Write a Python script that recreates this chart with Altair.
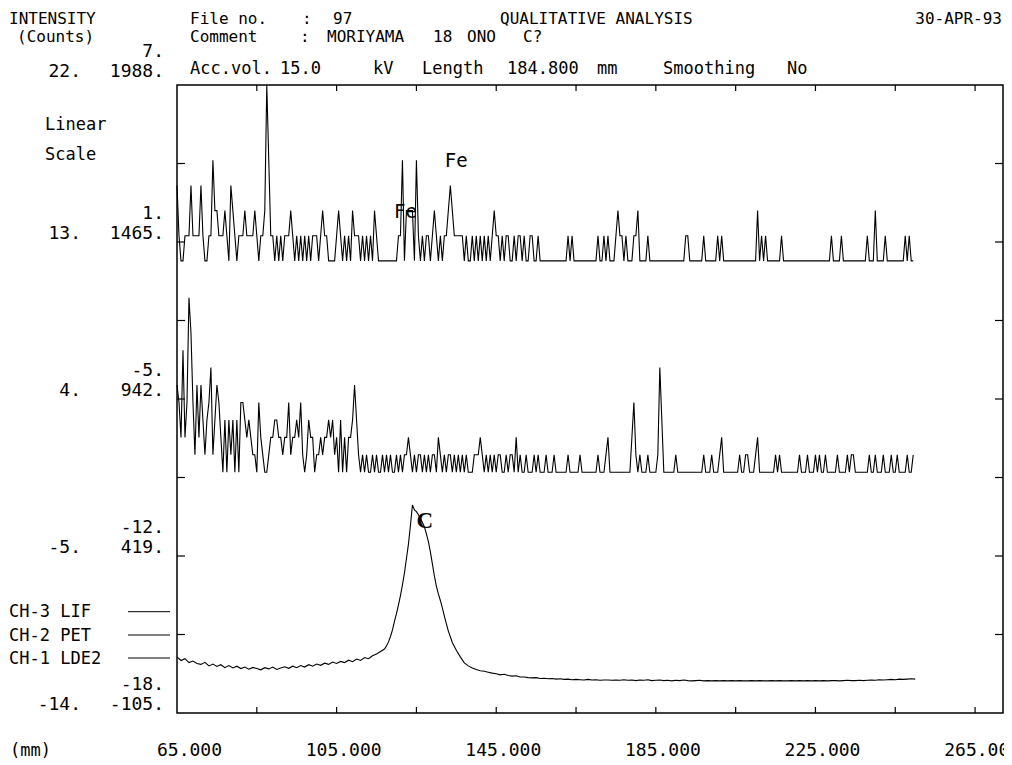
import altair as alt
import pandas as pd

# ---------------- data ----------------
X_START_MM = 65.0
STEP_MM = 0.5  # sampling step of CH-3 / CH-2 traces

# CH-3 LIF counts (top trace), 0.5 mm step from 65.0 mm
TOP_LIF = [
    3,1,0,0,1,1,1,3,1,1, 1,1,3,1,0,0,1,1,4,2, 2,1,1,1,2,1,0,3,2,1, 0,1,1,1,2,1,1,1,1,2,
    1,0,1,1,2,7,4,1,1,0, 1,0,1,0,1,1,1,2,1,0, 1,0,1,0,1,0,1,0,1,1, 1,0,1,2,1,1,0,0,0,0,
    1,2,1,0,1,0,1,0,2,1, 1,1,0,1,0,1,0,1,0,2, 1,0,0,0,0,0,0,0,0,0, 0,1,1,4,0,2,2,2,2,0,
    4,1,0,1,0,1,1,0,1,2, 1,0,1,0,1,1,2,3,2,1, 1,1,1,1,0,1,0,0,1,0, 1,0,1,0,1,0,1,0,1,2,
    1,1,0,1,0,1,1,0,0,1, 0,1,1,0,1,0,0,1,1,0, 0,1,0,0,0,0,0,0,0,0, 0,0,0,0,0,0,1,0,1,0,
    0,0,0,0,0,0,0,0,0,0, 0,1,0,0,1,0,1,0,0,0, 1,2,1,1,0,1,0,0,0,1, 1,2,0,0,0,0,1,0,0,0,
    0,0,0,0,0,0,0,0,0,0, 0,0,0,0,0,1,1,0,0,0, 0,0,0,0,1,0,0,0,0,0, 0,1,0,1,0,0,0,0,0,0,
    0,0,0,0,0,0,0,0,0,0, 0,2,0,1,0,1,0,0,0,0, 0,0,0,1,0,0,0,0,0,0, 0,0,0,0,0,0,0,0,0,0,
    0,0,0,0,0,0,0,0,1,0, 0,0,0,1,0,0,0,0,0,0, 0,0,0,0,0,0,1,0,0,0, 2,0,0,0,0,1,0,0,0,0,
    0,0,0,0,0,1,0,1,0,0,
]

# CH-2 PET counts (middle trace), 0.5 mm step from 65.0 mm
MID_PET = [
    5,4,2,7,2,4,10,8,4,1, 5,2,5,3,1,3,4,6,1,3, 5,4,2,0,3,0,3,1,3,0, 3,0,4,4,3,2,3,2,1,1,
    0,4,2,1,0,0,1,2,2,3, 3,2,2,1,2,2,4,1,2,2, 3,2,4,1,0,1,3,2,2,0, 1,1,2,1,2,2,3,2,3,1,
    2,0,3,0,2,0,2,2,3,5, 3,1,0,1,0,1,0,0,1,0, 1,0,0,1,0,1,0,1,0,0, 1,0,1,0,1,1,2,1,0,1,
    0,1,1,0,1,0,1,0,1,1, 0,2,1,0,1,0,1,1,0,1, 0,1,0,1,0,1,0,0,0,1, 1,1,2,1,0,1,0,1,0,1,
    0,1,1,0,0,1,0,1,1,0, 2,0,1,0,0,1,0,0,0,1, 0,1,0,0,0,1,0,0,0,1, 0,0,0,0,0,0,1,0,0,0,
    0,0,1,0,0,0,0,0,0,0, 0,1,0,0,0,1,2,0,0,0, 0,0,0,0,0,0,0,0,2,4, 1,0,1,0,0,0,1,0,0,0,
    0,1,6,3,0,0,0,0,0,0, 1,0,0,0,0,0,0,0,0,0, 0,0,0,0,1,0,0,0,1,0, 0,0,1,2,0,0,0,0,0,0,
    0,0,1,0,0,1,1,0,0,0, 1,2,0,0,0,0,0,0,0,0, 1,0,1,0,0,0,0,0,0,0, 0,0,1,0,0,0,1,0,0,0,
    1,0,1,0,0,1,0,0,0,0, 0,1,0,0,0,0,1,0,1,1, 0,0,0,0,0,0,0,1,0,0, 1,0,0,0,1,0,0,0,1,0,
    0,1,0,0,0,0,1,0,0,1,
]

# CH-1 LDE2 counts (bottom trace)
BOT_MM = (list(range(65, 118))
          + [117.5 + 0.5 * k for k in range(30)]
          + list(range(133, 251)))
BOT_LDE2 = [
    82,70,76,63,68,60,57,64,52,58, 50,56,46,53,45,51,43,48,41,47,
    43,39,46,42,48,40,45,49,44,51, 46,53,48,56,51,58,54,61,57,65,
    60,67,63,71,66,75,70,80,76,86, 92,100,108,
    118,132,150,172,200,226,255,286,322,362, 410,458,520,588,572,566,556,543,530,515,
    492,466,432,392,352,318,292,270,245,218,
    168,130,104,82,62,52,45,40,36,34, 31,28,26,22,24,20,18,19,15,15,
    13,12,13,10,11,9,10,8,9,7, 8,6,7,6,5,7,5,6,4,5, 5,4,
    5,4,6,4,5,3,5,4,6,3, 4,5,3,4,2,4,3,5,3,2, 3,4,2,3,2,3,2,3,2,3,
    2,3,2,2,3,2,3,2,2,3, 2,3,2,2,3,2,3,2,3,2, 3,2,3,2,3,3,2,3,4,3,
    3,4,3,4,5,4,6,5,6,7, 6,8,7,8,9,8,
]

# frame ticks and labels
X_TICKS_MM = [85, 105, 125, 145, 165, 185, 205, 225, 245, 265]
X_LABELS_MM = [65, 105, 145, 185, 225, 265]
Y_TICKS_CH1 = [156.625, 418.25, 679.875, 941.5, 1203.125, 1464.75, 1726.375]
Y_LABEL_VALUES = [1988, 1464.75, 941.5, 418.25, -105]
COL_CH2 = ["22.", "13.", "4.", "-5.", "-14."]
COL_CH1 = ["1988.", "1465.", "942.", "419.", "-105."]
COL_CH3 = ["7.", "1.", "-5.", "-12.", "-18."]

# ---------------- tables ----------------
grid = [X_START_MM + STEP_MM * i for i in range(len(TOP_LIF))]
df_top = pd.DataFrame({"mm": grid, "v": TOP_LIF})
df_mid = pd.DataFrame({"mm": grid[:len(MID_PET)], "v": MID_PET})
df_bot = pd.DataFrame({"mm": BOT_MM, "v": BOT_LDE2})
df_xt = pd.DataFrame({"mm": X_TICKS_MM})
df_xl = pd.DataFrame({"mm": X_LABELS_MM, "t": [f"{v:.3f}" for v in X_LABELS_MM]})
df_yt = pd.DataFrame({"v": Y_TICKS_CH1})
df_yl = pd.DataFrame({"v": Y_LABEL_VALUES, "a": COL_CH2, "b": COL_CH1, "s": COL_CH3})

# ---------------- scales / style ----------------
W, H = 826, 628
MONO = "DejaVu Sans Mono"
FS = 18      # axis numbers
FH = 16      # header texts
xs = alt.Scale(domain=[65, 272.0], nice=False, zero=False)
s_top = alt.Scale(domain=[-18, 7], nice=False, zero=False)
s_mid = alt.Scale(domain=[-13.8, 22.2], nice=False, zero=False)
s_bot = alt.Scale(domain=[-105, 1988], nice=False, zero=False)

X = alt.X("mm:Q", scale=xs, axis=None)


def trace(df, scale):
    return alt.Chart(df).mark_line(color="black", strokeWidth=1.1, interpolate="linear").encode(
        x=X, y=alt.Y("v:Q", scale=scale, axis=None))


def txt(text, x, y, align="left", size=FH, font=MONO, weight="normal"):
    return alt.Chart(pd.DataFrame({"t": [text]})).mark_text(
        align=align, baseline="alphabetic", font=font, fontSize=size,
        fontWeight=weight, color="black").encode(
        text="t:N", x=alt.value(x), y=alt.value(y))


layers = [trace(df_top, s_top), trace(df_mid, s_mid), trace(df_bot, s_bot)]

# peak annotations
layers.append(alt.Chart(pd.DataFrame({"mm": [132.1, 119.4], "v": [3.74, 1.71], "t": ["Fe", "Fe"]}))
              .mark_text(align="left", baseline="alphabetic", font=MONO, fontSize=19, color="black")
              .encode(x=X, y=alt.Y("v:Q", scale=s_top, axis=None), text="t:N"))
layers.append(alt.Chart(pd.DataFrame({"mm": [127.1], "v": [512], "t": ["C"]}))
              .mark_text(align="center", baseline="alphabetic", font="Liberation Serif",
                         fontSize=23, fontWeight="bold", color="black")
              .encode(x=X, y=alt.Y("v:Q", scale=s_bot, axis=None), text="t:N"))

# frame ticks (inward)
Yb = alt.Y("v:Q", scale=s_bot, axis=None)
layers.append(alt.Chart(df_yt).mark_rule(color="black", strokeWidth=1.2).encode(
    y=Yb, x=alt.value(0), x2=alt.value(8)))
layers.append(alt.Chart(df_yt).mark_rule(color="black", strokeWidth=1.2).encode(
    y=Yb, x=alt.value(W - 8), x2=alt.value(W)))
layers.append(alt.Chart(df_xt).mark_rule(color="black", strokeWidth=1.2).encode(
    x=X, y=alt.value(0), y2=alt.value(6)))
layers.append(alt.Chart(df_xt).mark_rule(color="black", strokeWidth=1.2).encode(
    x=X, y=alt.value(H - 6), y2=alt.value(H)))

# x labels
layers.append(alt.Chart(df_xl).mark_text(align="right", baseline="alphabetic", dx=45,
                                         font=MONO, fontSize=FS, color="black")
              .encode(x=X, y=alt.value(H + 43), text="t:N"))

# y labels (three channel scales)
top_row = df_yl.iloc[:1]
rest = df_yl.iloc[1:]
for d, dy in ((top_row, -8), (rest, -3)):
    for col, xpos in (("a", -96), ("b", -13)):
        layers.append(alt.Chart(d).mark_text(align="right", baseline="alphabetic", dy=dy,
                                             font=MONO, fontSize=FS, color="black")
                      .encode(y=Yb, x=alt.value(xpos), text=f"{col}:N"))
    layers.append(alt.Chart(d).mark_text(align="right", baseline="alphabetic", dy=dy - 20,
                                         font=MONO, fontSize=FS, color="black")
                  .encode(y=Yb, x=alt.value(-13), text="s:N"))

# header and side texts
R1, R2, R3 = -61, -43, -11
layers += [
    txt("INTENSITY", -168, R1), txt("(Counts)", -160, R2),
    txt("File no.", 13, R1), txt(":", 125, R1), txt("97", 156, R1),
    txt("Comment", 13, R2), txt(":", 123, R2), txt("MORIYAMA", 150, R2),
    txt("18", 256, R2), txt("ONO", 290, R2), txt("C?", 346, R2),
    txt("QUALITATIVE ANALYSIS", 323, R1), txt("30-APR-93", 825, R1, align="right"),
    txt("Acc.vol.", 13, R3, size=17), txt("15.0", 103, R3, size=17), txt("kV", 196, R3, size=17),
    txt("Length", 245, R3, size=17), txt("184.800", 330, R3, size=17), txt("mm", 420, R3, size=17),
    txt("Smoothing", 486, R3, size=17), txt("No", 610, R3, size=17),
    txt("Linear", -132, 45, size=17), txt("Scale", -132, 75, size=17),
    txt("CH-3 LIF", -168, 532, size=17), txt("CH-2 PET", -168, 556, size=17),
    txt("CH-1 LDE2", -168, 579, size=17),
    txt("(mm)", -167, H + 43, size=17),
]
for yy in (526.7, 550, 573):
    layers.append(alt.Chart(pd.DataFrame({"k": [0]})).mark_rule(color="black", strokeWidth=1)
                  .encode(x=alt.value(-49), x2=alt.value(-7), y=alt.value(yy)))

chart = (alt.layer(*layers)
         .resolve_scale(y="independent")
         .properties(width=W, height=H,
                     padding={"left": 169, "top": 77, "right": 1, "bottom": 52},
                     autosize=alt.AutoSizeParams(type="none"),
                     background="white")
         .configure_view(stroke="black", strokeWidth=1.5))

chart.save("out.html", embed_options={"renderer": "svg", "actions": False})
